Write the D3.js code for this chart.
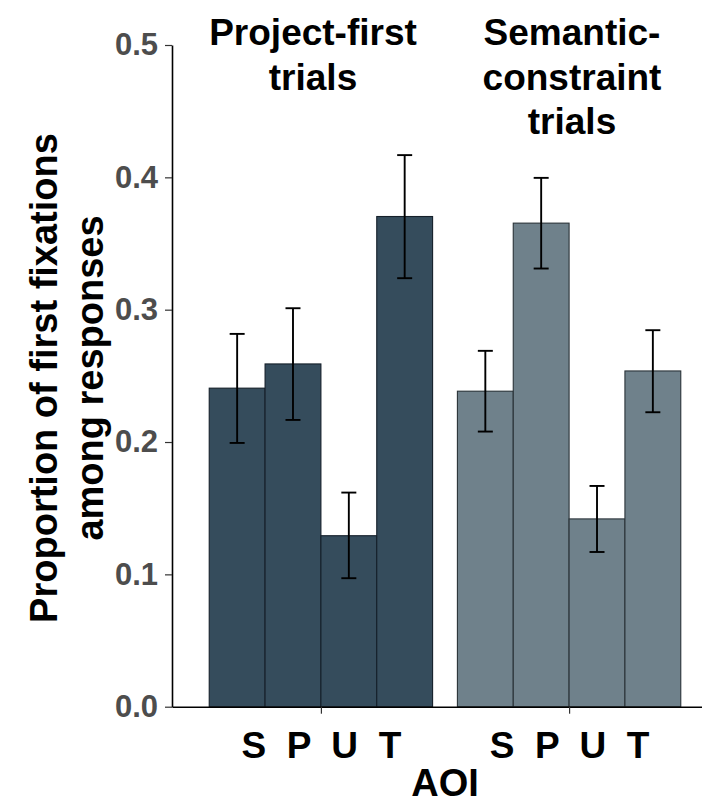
<!DOCTYPE html>
<html>
<head>
<meta charset="utf-8">
<script src="https://cdn.jsdelivr.net/npm/d3@7"></script>
<style>
  html, body { margin: 0; padding: 0; background: #fff; }
  svg { display: block; font-family: "Liberation Sans", Arial, Helvetica, sans-serif; font-weight: bold; }
</style>
</head>
<body>
<svg id="chart" width="702" height="796"></svg>
<script>
// ---- data ----
const groups = ["Project-first trials", "Semantic-constraint trials"];
const groupTitles = [["Project-first", "trials"], ["Semantic-", "constraint", "trials"]];
const aois = ["S", "P", "U", "T"];
const projectFirst = [0.2407, 0.2590, 0.1292, 0.3704];
const projectFirstLo = [0.1993, 0.2167, 0.0971, 0.3238];
const projectFirstHi = [0.2817, 0.3011, 0.1618, 0.4168];
const semantic = [0.2384, 0.3654, 0.1419, 0.2537];
const semanticLo = [0.2079, 0.3311, 0.1169, 0.2225];
const semanticHi = [0.2689, 0.3996, 0.1668, 0.2845];
const yTicks = [0.0, 0.1, 0.2, 0.3, 0.4, 0.5];
const groupColors = ["#354c5c", "#6f818b"];
const yTitle = ["Proportion of first fixations", "among responses"];
const xTitle = "AOI";

const series = [
  { group: groups[0], vals: projectFirst, lo: projectFirstLo, hi: projectFirstHi },
  { group: groups[1], vals: semantic, lo: semanticLo, hi: semanticHi }
];

(function () {
// ---- layout ----
const svg = d3.select("#chart");
const mLeft = 172, mRight = 718, mTop = 45, mBottom = 706.7;

const x = d3.scalePoint().domain(groups).range([mLeft, mRight]).padding(0.6);
const groupW = x.step() * 0.9;
const xi = d3.scaleBand().domain(aois).range([-groupW / 2, groupW / 2]).padding(0);
const y = d3.scaleLinear().domain([0, 0.5]).range([mBottom, mTop]);

// bars
const gBars = svg.append("g");
series.forEach((s, gi) => {
  const g = gBars.append("g").attr("transform", `translate(${x(s.group)},0)`);
  const rows = aois.map((a, i) => ({ a, v: s.vals[i], lo: s.lo[i], hi: s.hi[i] }));
  g.selectAll("rect").data(rows).join("rect")
    .attr("x", d => xi(d.a))
    .attr("width", xi.bandwidth())
    .attr("y", d => y(d.v))
    .attr("height", d => y(0) - y(d.v))
    .attr("fill", groupColors[gi])
    .attr("stroke", gi === 0 ? "#15202a" : "#2a3338")
    .attr("stroke-width", 1.1);
  const cap = 7.5;
  const eb = g.selectAll("g.eb").data(rows).join("g").attr("class", "eb")
    .attr("transform", d => `translate(${xi(d.a) + xi.bandwidth() / 2},0)`);
  eb.append("line").attr("x1", 0).attr("x2", 0)
    .attr("y1", d => y(d.hi)).attr("y2", d => y(d.lo));
  eb.append("line").attr("x1", -cap).attr("x2", cap)
    .attr("y1", d => y(d.hi)).attr("y2", d => y(d.hi));
  eb.append("line").attr("x1", -cap).attr("x2", cap)
    .attr("y1", d => y(d.lo)).attr("y2", d => y(d.lo));
  eb.selectAll("line").attr("stroke", "#000").attr("stroke-width", 1.9);
});

// y axis
const yAxis = svg.append("g").attr("transform", `translate(${mLeft},0)`)
  .call(d3.axisLeft(y).tickValues(yTicks).tickFormat(d3.format(".1f")).tickSize(7).tickSizeOuter(0).tickPadding(7));
yAxis.select(".domain").attr("stroke", "#000").attr("stroke-width", 1.6);
yAxis.selectAll(".tick line").attr("stroke", "#333").attr("stroke-width", 1.2);
yAxis.selectAll(".tick text").attr("fill", "#4d4d4d")
  .style("font-size", "31px").style("font-weight", "bold")
  .style("font-family", "'Liberation Sans', Arial, Helvetica, sans-serif");

// x axis
const xAxis = svg.append("g").attr("transform", `translate(0,${mBottom})`)
  .call(d3.axisBottom(x).tickFormat(() => aois.join("  ")).tickSize(7).tickSizeOuter(0));
xAxis.select(".domain").attr("stroke", "#000").attr("stroke-width", 1.6);
xAxis.selectAll(".tick line").attr("stroke", "#333").attr("stroke-width", 1.2);
xAxis.selectAll(".tick text").attr("fill", "#000")
  .attr("y", 51.6).attr("dy", 0)
  .style("white-space", "pre")
  .style("font-size", "37px").style("font-weight", "bold")
  .style("font-family", "'Liberation Sans', Arial, Helvetica, sans-serif");

// group titles
const titleX = [313, 572];
groupTitles.forEach((lines, gi) => {
  const t = svg.append("text").attr("text-anchor", "middle")
    .style("font-size", "37px").attr("fill", "#000");
  lines.forEach((ln, li) => {
    t.append("tspan").attr("x", titleX[gi]).attr("y", 45 + li * 44.5).text(ln);
  });
});

// y title
const yt = svg.append("text").attr("text-anchor", "middle")
  .attr("transform", "translate(0,378) rotate(-90)")
  .style("font-size", "38px").attr("fill", "#000");
yTitle.forEach((ln, li) => {
  yt.append("tspan").attr("x", 0).attr("y", 57 + li * 46).text(ln);
});

// x title
svg.append("text").attr("text-anchor", "middle")
  .attr("x", (mLeft + mRight) / 2).attr("y", 796)
  .style("font-size", "38px").attr("fill", "#000").text(xTitle);
})();
</script>
</body>
</html>
